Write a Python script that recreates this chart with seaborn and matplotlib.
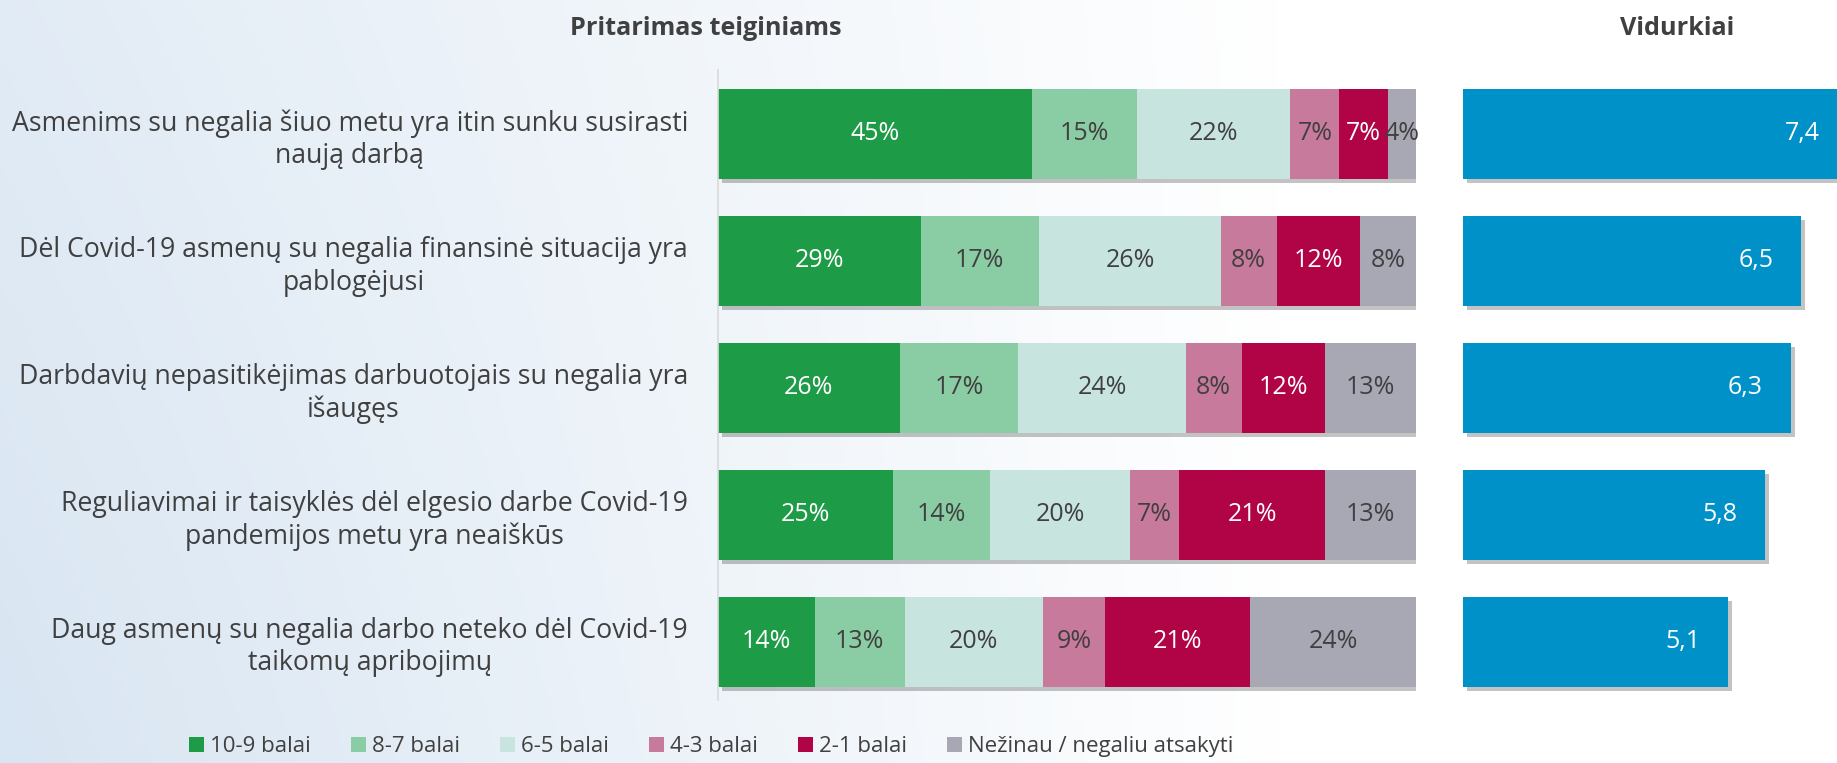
import numpy as np
import matplotlib
matplotlib.use("Agg")
import matplotlib.pyplot as plt
import matplotlib.patheffects as pe
from matplotlib.colors import LinearSegmentedColormap
from matplotlib.patches import Patch
import seaborn as sns

rows = [
    "Asmenims su negalia šiuo metu yra itin sunku susirasti\nnaują darbą",
    "Dėl Covid-19 asmenų su negalia finansinė situacija yra\npablogėjusi",
    "Darbdavių nepasitikėjimas darbuotojais su negalia yra\nišaugęs",
    "Reguliavimai ir taisyklės dėl elgesio darbe Covid-19\npandemijos metu yra neaiškūs",
    "Daug asmenų su negalia darbo neteko dėl Covid-19\ntaikomų apribojimų",
]
cats = ["10-9 balai", "8-7 balai", "6-5 balai", "4-3 balai", "2-1 balai", "Nežinau / negaliu atsakyti"]
s10_9 = [45, 29, 26, 25, 14]
s8_7 = [15, 17, 17, 14, 13]
s6_5 = [22, 26, 24, 20, 20]
s4_3 = [7, 8, 8, 7, 9]
s2_1 = [7, 12, 12, 21, 21]
s_dk = [4, 8, 13, 13, 24]
means = [7.4, 6.5, 6.3, 5.8, 5.1]

colors = ["#1e9b47", "#8acca3", "#c8e4df", "#c87a9c", "#b00446", "#a8a8b4"]
txt_col = ["white", "#404040", "#404040", "#404040", "white", "#404040"]
blue = "#0091c8"
dark = "#404040"

sns.set_style("white")
plt.rcParams["font.family"] = ["Open Sans", "DejaVu Sans"]

fig = plt.figure(figsize=(18.37, 7.63), dpi=100)

# background gradient
bg = fig.add_axes([0, 0, 1, 1], zorder=-10)
gx = np.linspace(0, 1, 400)
gy = np.linspace(0, 1, 200)
X, Y = np.meshgrid(gx, gy)
G = np.clip(1 - X / 0.7, 0, 1) * (0.75 + 0.25 * Y)
cmap = LinearSegmentedColormap.from_list("bgc", ["#ffffff", "#d8e5f2"])
bg.imshow(G, cmap=cmap, aspect="auto", extent=[0, 1, 0, 1], origin="upper", vmin=0, vmax=1)
bg.axis("off")

ax = fig.add_axes([0.3909, 0.0826, 0.38, 0.8257])
ax2 = fig.add_axes([0.7964, 0.0826, 0.2036, 0.8257])
for a in (ax, ax2):
    a.set_facecolor("none")

layers = np.array([s10_9, s8_7, s6_5, s4_3, s2_1, s_dk], dtype=float)
widths = layers / layers.sum(axis=0) * 100
cum = np.cumsum(widths, axis=0)

shadow = [pe.SimplePatchShadow(offset=(3, -3), shadow_rgbFace="#555555", alpha=0.35), pe.Normal()]

for i in range(len(cats) - 1, -1, -1):
    n0 = len(ax.patches)
    sns.barplot(x=cum[i], y=rows, color=colors[i], orient="h", width=0.71,
                saturation=1, errorbar=None, linewidth=0, ax=ax)
    if i == len(cats) - 1:
        for p in ax.patches[n0:]:
            p.set_path_effects(shadow)

for i in range(len(cats)):
    for r in range(len(rows)):
        xc = cum[i][r] - widths[i][r] / 2
        ax.text(xc, r, f"{int(layers[i][r])}%", ha="center", va="center",
                color=txt_col[i], fontsize=18)

ax.set_xlim(0, 100)
ax.set_ylim(4.46, -0.504)
ax.set_xlabel("")
ax.set_ylabel("")
ax.set_xticks([])
ax.tick_params(axis="y", length=0, pad=21.6, labelsize=19.2, labelcolor=dark)
for lab in ax.get_yticklabels():
    lab.set_multialignment("center")
for s in ["top", "right", "bottom"]:
    ax.spines[s].set_visible(False)
ax.spines["left"].set_color("#d9d9d9")
ax.spines["left"].set_linewidth(1.2)

sns.barplot(x=means, y=rows, color=blue, orient="h", width=0.71,
            saturation=1, errorbar=None, linewidth=0, ax=ax2)
for p in ax2.patches:
    p.set_path_effects(shadow)
for r, m in enumerate(means):
    ax2.annotate(f"{m:.1f}".replace(".", ","), (m, r), xytext=(-20, 0),
                 textcoords="offset points", ha="right", va="center",
                 color="white", fontsize=18, annotation_clip=False)
ax2.set_xlim(0, 7.19)
ax2.set_ylim(4.46, -0.504)
ax2.set_xlabel("")
ax2.set_ylabel("")
ax2.set_xticks([])
ax2.set_yticks([])
for s in ["top", "right", "bottom", "left"]:
    ax2.spines[s].set_visible(False)

fig.text(0.384, 0.962, "Pritarimas teiginiams", ha="center", va="center",
         fontsize=18.2, fontweight="bold", color=dark)
fig.text(0.913, 0.962, "Vidurkiai", ha="center", va="center",
         fontsize=18.2, fontweight="bold", color=dark)

handles = [Patch(facecolor=c, edgecolor="none") for c in colors]
fig.legend(handles, cats, loc="center", bbox_to_anchor=(0.387, 0.021), ncol=6,
           frameon=False, fontsize=16, handlelength=0.7, handleheight=0.7,
           handletextpad=0.25, columnspacing=1.8, labelcolor=dark)

fig.savefig("out.png", dpi=100)
